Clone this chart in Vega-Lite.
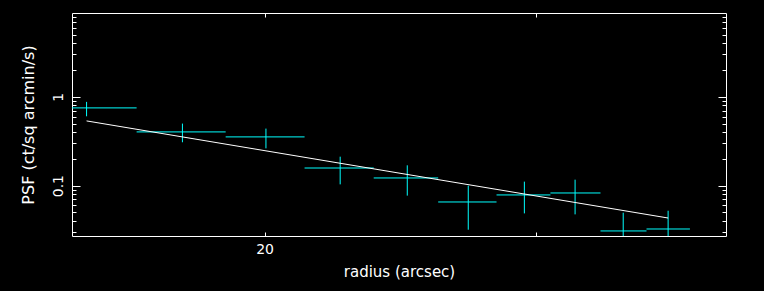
{
  "$schema": "https://vega.github.io/schema/vega-lite/v6.json",
  "width": 654,
  "height": 223,
  "autosize": {"type": "none"},
  "padding": {"left": 72, "top": 13, "right": 38, "bottom": 55},
  "background": "black",
  "config": {
    "view": {"stroke": "white", "strokeWidth": 1},
    "axis": {
      "domain": false, "grid": false, "tickColor": "white", "tickWidth": 1,
      "labelColor": "white", "titleColor": "white",
      "labelFont": "DejaVu Sans", "titleFont": "DejaVu Sans",
      "labelFontSize": 14, "titleFontSize": 15, "titleFontWeight": "normal",
      "labelOverlap": false, "labelFlush": false
    }
  },
  "datasets": {
    "points": [
      {"x": 15.33, "xlo": 14.2, "xhi": 16.52, "y": 0.751, "ylo": 0.604, "yhi": 0.878},
      {"x": 17.69, "xlo": 16.52, "xhi": 18.87, "y": 0.403, "ylo": 0.308, "yhi": 0.5},
      {"x": 20.04, "xlo": 18.87, "xhi": 21.23, "y": 0.354, "ylo": 0.263, "yhi": 0.439},
      {"x": 22.39, "xlo": 21.23, "xhi": 23.54, "y": 0.158, "ylo": 0.1034, "yhi": 0.212},
      {"x": 24.75, "xlo": 23.54, "xhi": 25.92, "y": 0.1221, "ylo": 0.0772, "yhi": 0.1694},
      {"x": 27.11, "xlo": 25.92, "xhi": 28.28, "y": 0.0655, "ylo": 0.0319, "yhi": 0.1},
      {"x": 29.48, "xlo": 28.28, "xhi": 30.65, "y": 0.0786, "ylo": 0.0487, "yhi": 0.111},
      {"x": 31.8, "xlo": 30.65, "xhi": 33.03, "y": 0.0827, "ylo": 0.0475, "yhi": 0.1168},
      {"x": 34.17, "xlo": 33.03, "xhi": 35.38, "y": 0.0309, "ylo": 0.015, "yhi": 0.0496},
      {"x": 36.54, "xlo": 35.38, "xhi": 37.75, "y": 0.0325, "ylo": 0.018, "yhi": 0.0522}
    ],
    "fit": [
      {"x": 15.33, "y": 0.536},
      {"x": 36.54, "y": 0.0432}
    ]
  },
  "layer": [
    {
      "data": {"name": "points"},
      "mark": {"type": "rule", "color": "#00ffff", "strokeWidth": 1, "clip": true},
      "encoding": {
        "x": {
          "field": "xlo", "type": "quantitative",
          "scale": {"type": "log", "domain": [15.0, 39.84], "nice": false, "zero": false},
          "axis": {
            "orient": "bottom", "values": [20, 30, 40], "tickSize": -4,
            "labelExpr": "datum.value == 20 ? '20' : ''",
            "labelPadding": 10, "title": "radius (arcsec)", "titlePadding": 8
          }
        },
        "x2": {"field": "xhi"},
        "y": {
          "field": "y", "type": "quantitative",
          "scale": {"type": "log", "domain": [0.0271, 8.8], "nice": false, "zero": false},
          "axis": {
            "orient": "left",
            "values": [0.03, 0.04, 0.05, 0.06, 0.07, 0.08, 0.09, 0.1, 0.2, 0.3, 0.4, 0.5, 0.6, 0.7, 0.8, 0.9, 1, 2, 3, 4, 5, 6, 7, 8],
            "tickSize": {"condition": {"test": "datum.value == 1 || abs(datum.value - 0.1) < 1e-9", "value": -8}, "value": -4},
            "labelExpr": "datum.value == 1 ? '1' : (abs(datum.value - 0.1) < 1e-9 ? '0.1' : '')",
            "labelAngle": -90, "labelAlign": "center", "labelBaseline": "bottom", "labelPadding": 15,
            "title": "PSF (ct/sq arcmin/s)", "titleFontSize": 16, "titlePadding": 11
          }
        }
      }
    },
    {
      "data": {"name": "points"},
      "mark": {"type": "rule", "color": "#00ffff", "strokeWidth": 1, "clip": true},
      "encoding": {
        "x": {
          "field": "x", "type": "quantitative",
          "scale": {"type": "log", "domain": [15.0, 39.84], "nice": false, "zero": false},
          "axis": {"orient": "top", "values": [20, 30, 40], "tickSize": -4, "labels": false, "title": null}
        },
        "y": {
          "field": "ylo", "type": "quantitative",
          "scale": {"type": "log", "domain": [0.0271, 8.8], "nice": false, "zero": false},
          "axis": {
            "orient": "right",
            "values": [0.03, 0.04, 0.05, 0.06, 0.07, 0.08, 0.09, 0.1, 0.2, 0.3, 0.4, 0.5, 0.6, 0.7, 0.8, 0.9, 1, 2, 3, 4, 5, 6, 7, 8],
            "tickSize": {"condition": {"test": "datum.value == 1 || abs(datum.value - 0.1) < 1e-9", "value": -8}, "value": -4},
            "labels": false, "title": null
          }
        },
        "y2": {"field": "yhi"}
      }
    },
    {
      "data": {"name": "fit"},
      "mark": {"type": "line", "color": "white", "strokeWidth": 1, "clip": true},
      "encoding": {
        "x": {"field": "x", "type": "quantitative", "scale": {"type": "log", "domain": [15.0, 39.84], "nice": false, "zero": false}, "axis": null},
        "y": {"field": "y", "type": "quantitative", "scale": {"type": "log", "domain": [0.0271, 8.8], "nice": false, "zero": false}, "axis": null}
      }
    }
  ],
  "resolve": {"axis": {"x": "independent", "y": "independent"}}
}
